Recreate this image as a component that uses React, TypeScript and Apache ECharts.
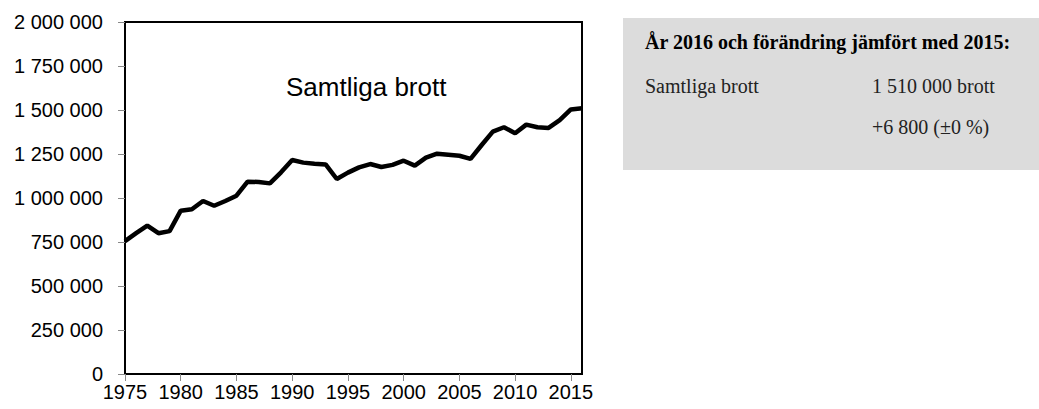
import React, { useEffect, useRef } from "react";
import * as echarts from "echarts";

const years = [
  "1975", "1976", "1977", "1978", "1979", "1980", "1981", "1982", "1983", "1984",
  "1985", "1986", "1987", "1988", "1989", "1990", "1991", "1992", "1993", "1994",
  "1995", "1996", "1997", "1998", "1999", "2000", "2001", "2002", "2003", "2004",
  "2005", "2006", "2007", "2008", "2009", "2010", "2011", "2012", "2013", "2014",
  "2015", "2016",
];

const samtligaBrott = [
  755000, 800000, 843000, 800000, 812000, 928000, 936000, 983000, 956000, 983000,
  1013000, 1093000, 1091000, 1083000, 1146000, 1216000, 1201000, 1195000, 1191000, 1108000,
  1144000, 1174000, 1193000, 1176000, 1188000, 1212000, 1184000, 1229000, 1252000, 1246000,
  1240000, 1222000, 1301000, 1377000, 1402000, 1368000, 1417000, 1402000, 1398000, 1442000,
  1503000, 1510000,
];

const chartTitle = "Samtliga brott";
const boxHeading = "År 2016 och förändring jämfört med 2015:";
const boxLabel = "Samtliga brott";
const boxValue = "1 510 000 brott";
const boxChange = "+6 800 (±0 %)";

const fmt = (v: number) =>
  String(v).replace(/\B(?=(\d{3})+(?!\d))/g, " ");

export default function App() {
  const ref = useRef<HTMLDivElement>(null);
  useEffect(() => {
    if (!ref.current) return;
    const chart = echarts.init(ref.current, null, { renderer: "svg" });
    const sans = "Liberation Sans, Arial, sans-serif";
    const serif = "Liberation Serif, Times New Roman, serif";
    chart.setOption({
      animation: false,
      backgroundColor: "#ffffff",
      grid: {
        left: 125,
        right: 457,
        top: 22,
        bottom: 35,
        show: true,
        borderColor: "#000",
        borderWidth: 2,
        backgroundColor: "transparent",
      },
      xAxis: {
        type: "category",
        data: years,
        boundaryGap: false,
        axisLine: { show: true, lineStyle: { color: "#000", width: 2 } },
        axisTick: {
          show: true,
          interval: 4,
          length: 7,
          lineStyle: { color: "#888", width: 1 },
        },
        axisLabel: {
          interval: 4,
          margin: 8,
          color: "#000",
          fontSize: 20,
          fontFamily: sans,
        },
        splitLine: { show: false },
      },
      yAxis: {
        type: "value",
        min: 0,
        max: 2000000,
        interval: 250000,
        axisLine: { show: true, lineStyle: { color: "#000", width: 2 } },
        axisTick: {
          show: true,
          length: 7,
          lineStyle: { color: "#888", width: 1 },
        },
        axisLabel: {
          margin: 22,
          color: "#000",
          fontSize: 20,
          fontFamily: sans,
          formatter: (v: number) => fmt(v),
        },
        splitLine: { show: false },
      },
      series: [
        {
          type: "line",
          data: samtligaBrott,
          symbol: "none",
          lineStyle: { color: "#000", width: 4.5 },
          z: 3,
        },
      ],
      graphic: [
        {
          type: "text",
          left: 286,
          top: 74,
          style: {
            text: chartTitle,
            fontSize: 26,
            fontFamily: sans,
            fill: "#000",
          },
        },
        {
          type: "rect",
          shape: { x: 623, y: 18, width: 416, height: 152 },
          style: { fill: "#dcdcdc" },
          z: 0,
        },
        {
          type: "text",
          x: 645,
          y: 42,
          style: {
            text: boxHeading,
            fontSize: 20,
            fontWeight: "bold",
            fontFamily: serif,
            fill: "#000",
            verticalAlign: "middle",
          },
          z: 1,
        },
        {
          type: "text",
          x: 645,
          y: 86,
          style: {
            text: boxLabel,
            fontSize: 20,
            fontFamily: serif,
            fill: "#222",
            verticalAlign: "middle",
          },
          z: 1,
        },
        {
          type: "text",
          x: 872,
          y: 86,
          style: {
            text: boxValue,
            fontSize: 20,
            fontFamily: serif,
            fill: "#222",
            verticalAlign: "middle",
          },
          z: 1,
        },
        {
          type: "text",
          x: 872,
          y: 127,
          style: {
            text: boxChange,
            fontSize: 20,
            fontFamily: serif,
            fill: "#222",
            verticalAlign: "middle",
          },
          z: 1,
        },
      ],
    });
    return () => chart.dispose();
  }, []);
  return (
    <div
      ref={ref}
      style={{ position: "fixed", left: 0, top: 0, width: 1039, height: 409 }}
    />
  );
}
